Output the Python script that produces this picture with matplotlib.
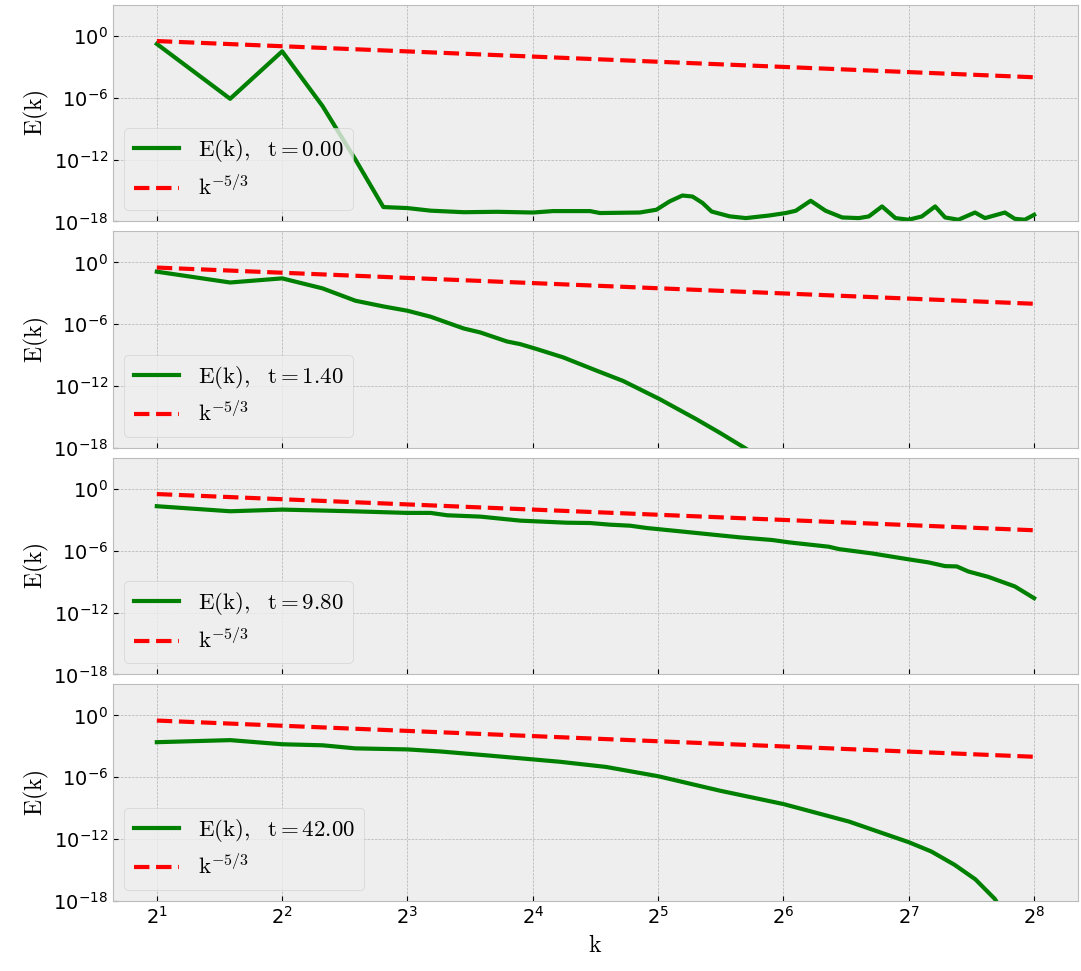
import numpy as np
import matplotlib
matplotlib.use('Agg')
import matplotlib.pyplot as plt
from matplotlib.ticker import NullLocator

# ---- data (wavenumber k, log10 of E(k)) ----
k_t0 = [2, 3, 4, 5, 6, 7, 8, 9.09, 10.92, 13.13, 16.03, 17.9, 21.95, 23.2, 28.9, 31.7,
        34.1, 36.6, 38.7, 40.9, 43.0, 47.5, 52.0, 59.1, 64.8, 68.5, 74.4, 80.8, 88.6,
        97.1, 102.6, 110.4, 118.9, 127.9, 137.6, 148.1, 156.5, 168.4, 184.6, 195.1,
        217.8, 230.1, 243.2, 256]
logE_t0 = [-0.78, -6.1, -1.5, -6.8, -12.0, -16.6, -16.7, -16.95, -17.1, -17.06, -17.13,
           -16.99, -16.99, -17.18, -17.13, -16.86, -16.05, -15.48, -15.58, -16.2, -17.03,
           -17.5, -17.67, -17.42, -17.18, -16.96, -15.99, -16.96, -17.61, -17.67, -17.51,
           -16.54, -17.67, -17.83, -17.51, -16.54, -17.61, -17.83, -17.13, -17.67, -17.13,
           -17.74, -17.83, -17.35]

k_t1 = [2, 3, 4, 5, 6, 7, 8, 9.09, 10.92, 11.98, 13.87, 14.93, 16.37, 18.95, 22.77,
        26.37, 32.27, 39.5, 44.9, 51.5, 59.1]
logE_t1 = [-0.9, -1.95, -1.55, -2.52, -3.72, -4.27, -4.69, -5.27, -6.41, -6.8, -7.67,
           -7.93, -8.41, -9.22, -10.5, -11.5, -13.26, -15.2, -16.5, -17.96, -19.5]

k_t2 = [2, 3, 4, 5, 6, 7, 8, 9.09, 9.97, 11.98, 14.93, 19.3, 21.95, 24.5, 27.4, 30.0,
        38.1, 50.2, 60.2, 66.1, 82.3, 87.0, 104.5, 125.5, 142.8, 156.5, 166.9, 177.9,
        198.6, 230.1, 256]
logE_t2 = [-1.68, -2.17, -2.01, -2.1, -2.18, -2.26, -2.33, -2.33, -2.56, -2.69, -3.08,
           -3.28, -3.31, -3.47, -3.57, -3.79, -4.21, -4.7, -4.96, -5.19, -5.61, -5.84,
           -6.26, -6.78, -7.13, -7.49, -7.52, -8.01, -8.53, -9.46, -10.6]

k_t3 = [2, 3, 4, 5, 6, 8, 9.6, 12.6, 18.6, 24.0, 32.0, 45.0, 64.0, 92.0, 128.0, 145.0,
        165.0, 185.0, 206.0, 256]
logE_t3 = [-2.6, -2.4, -2.8, -2.9, -3.2, -3.3, -3.5, -3.9, -4.5, -5.0, -5.9, -7.3,
           -8.6, -10.3, -12.3, -13.2, -14.5, -15.9, -17.8, -24.0]

times = ['0.00', '1.40', '9.80', '42.00']
k_ref = [2, 256]

series = [(k_t0, logE_t0), (k_t1, logE_t1), (k_t2, logE_t2), (k_t3, logE_t3)]

plt.style.use('bmh')
plt.rcParams['axes.unicode_minus'] = False

fig, axes = plt.subplots(4, 1, figsize=(10.81, 9.71), dpi=100, sharex=True)
fig.subplots_adjust(left=0.1045, right=0.9972, top=0.9949, bottom=0.0721, hspace=0.046)

for ax, (k, logE), t in zip(axes, series, times):
    k = np.asarray(k, float)
    E = 10.0 ** np.asarray(logE, float)
    ax.plot(k, E, color='green', lw=3, label=r'$\mathrm{E(k),\ \ t=%s}$' % t)
    kr = np.asarray(k_ref, float)
    ax.plot(kr, kr ** (-5.0 / 3.0), color='red', ls='--', lw=3, label=r'$\mathrm{k^{-5/3}}$')
    ax.set_xscale('log', base=2)
    ax.set_yscale('log')
    ax.set_ylim(1e-18, 1e3)
    ax.set_yticks([1e-18, 1e-12, 1e-6, 1])
    ax.yaxis.set_minor_locator(NullLocator())
    ax.xaxis.set_minor_locator(NullLocator())
    ax.set_ylabel(r'$\mathrm{E(k)}$', fontsize=17, labelpad=2)
    ax.tick_params(labelsize=14, color='black')
    ax.legend(loc='lower left', fontsize=16.5)

axes[-1].set_xticks([2 ** i for i in range(1, 9)])
axes[-1].set_xlabel(r'$\mathrm{k}$', fontsize=17)
axes[-1].xaxis.set_minor_locator(NullLocator())

fig.savefig('out.png', dpi=100)
